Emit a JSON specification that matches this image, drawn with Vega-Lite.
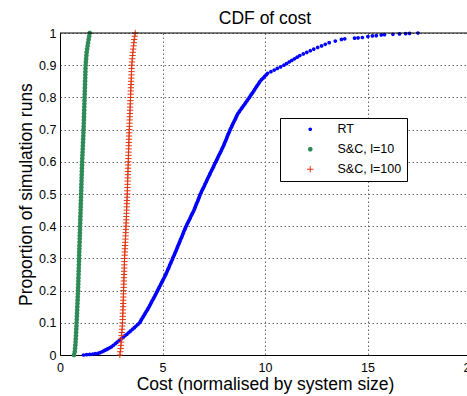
{
"$schema": "https://vega.github.io/schema/vega-lite/v6.json",
"width": 407,
"height": 322,
"autosize": {"type": "none"},
"padding": {"left": 60, "top": 33, "right": 0, "bottom": 41},
"background": "white",
"title": {"text": "CDF of cost", "fontSize": 17.5, "fontWeight": "normal", "font": "Liberation Sans", "color": "black", "anchor": "middle", "frame": "group", "offset": 10, "dx": 1.5, "dy": 10},
"config": {
  "font": "Liberation Sans",
  "view": {"stroke": null},
  "axis": {"domainColor": "black", "domainWidth": 1, "labelColor": "black", "titleColor": "black", "ticks": false, "labelFontSize": 12.5, "titleFontSize": 17.5, "titleFontWeight": "normal", "labelFont": "Liberation Sans", "titleFont": "Liberation Sans", "labelOverlap": false}
},
"layer": [
  {
    "data": {"values": [
{"series":"RT","cost":1.15,"prop":0},{"series":"RT","cost":1.3,"prop":0.001},{"series":"RT","cost":1.45,"prop":0.002},{"series":"RT","cost":1.6,"prop":0.003},{"series":"RT","cost":1.72,"prop":0.004},{"series":"RT","cost":1.85,"prop":0.005},{"series":"RT","cost":1.95,"prop":0.0075},{"series":"RT","cost":2.05,"prop":0.01},{"series":"RT","cost":2.13,"prop":0.0125},{"series":"RT","cost":2.2,"prop":0.015},{"series":"RT","cost":2.28,"prop":0.0175},{"series":"RT","cost":2.35,"prop":0.02},{"series":"RT","cost":2.43,"prop":0.0225},{"series":"RT","cost":2.5,"prop":0.025},{"series":"RT","cost":2.6,"prop":0.03},{"series":"RT","cost":2.7,"prop":0.035},{"series":"RT","cost":2.79,"prop":0.04},{"series":"RT","cost":2.89,"prop":0.045},{"series":"RT","cost":2.98,"prop":0.05},{"series":"RT","cost":3.08,"prop":0.055},{"series":"RT","cost":3.17,"prop":0.06},{"series":"RT","cost":3.27,"prop":0.065},{"series":"RT","cost":3.36,"prop":0.07},{"series":"RT","cost":3.45,"prop":0.075},{"series":"RT","cost":3.54,"prop":0.08},{"series":"RT","cost":3.63,"prop":0.085},{"series":"RT","cost":3.71,"prop":0.09},{"series":"RT","cost":3.8,"prop":0.095},{"series":"RT","cost":3.88,"prop":0.1},
{"series":"RT","cost":3.93,"prop":0.105},{"series":"RT","cost":3.97,"prop":0.11},{"series":"RT","cost":4.02,"prop":0.115},{"series":"RT","cost":4.07,"prop":0.12},{"series":"RT","cost":4.12,"prop":0.125},{"series":"RT","cost":4.16,"prop":0.13},{"series":"RT","cost":4.21,"prop":0.135},{"series":"RT","cost":4.26,"prop":0.14},{"series":"RT","cost":4.3,"prop":0.145},{"series":"RT","cost":4.35,"prop":0.15},
{"series":"RT","cost":4.39,"prop":0.155},{"series":"RT","cost":4.43,"prop":0.16},{"series":"RT","cost":4.47,"prop":0.165},{"series":"RT","cost":4.51,"prop":0.17},{"series":"RT","cost":4.56,"prop":0.175},{"series":"RT","cost":4.6,"prop":0.18},{"series":"RT","cost":4.64,"prop":0.185},{"series":"RT","cost":4.68,"prop":0.19},{"series":"RT","cost":4.72,"prop":0.195},{"series":"RT","cost":4.76,"prop":0.2},
{"series":"RT","cost":4.8,"prop":0.205},{"series":"RT","cost":4.84,"prop":0.21},{"series":"RT","cost":4.88,"prop":0.215},{"series":"RT","cost":4.92,"prop":0.22},{"series":"RT","cost":4.96,"prop":0.225},{"series":"RT","cost":5.0,"prop":0.23},{"series":"RT","cost":5.04,"prop":0.235},{"series":"RT","cost":5.08,"prop":0.24},{"series":"RT","cost":5.12,"prop":0.245},{"series":"RT","cost":5.16,"prop":0.25},
{"series":"RT","cost":5.19,"prop":0.255},{"series":"RT","cost":5.23,"prop":0.26},{"series":"RT","cost":5.26,"prop":0.265},{"series":"RT","cost":5.3,"prop":0.27},{"series":"RT","cost":5.33,"prop":0.275},{"series":"RT","cost":5.36,"prop":0.28},{"series":"RT","cost":5.4,"prop":0.285},{"series":"RT","cost":5.43,"prop":0.29},{"series":"RT","cost":5.47,"prop":0.295},{"series":"RT","cost":5.5,"prop":0.3},
{"series":"RT","cost":5.53,"prop":0.305},{"series":"RT","cost":5.57,"prop":0.31},{"series":"RT","cost":5.6,"prop":0.315},{"series":"RT","cost":5.63,"prop":0.32},{"series":"RT","cost":5.67,"prop":0.325},{"series":"RT","cost":5.7,"prop":0.33},{"series":"RT","cost":5.73,"prop":0.335},{"series":"RT","cost":5.76,"prop":0.34},{"series":"RT","cost":5.8,"prop":0.345},{"series":"RT","cost":5.83,"prop":0.35},
{"series":"RT","cost":5.86,"prop":0.355},{"series":"RT","cost":5.89,"prop":0.36},{"series":"RT","cost":5.93,"prop":0.365},{"series":"RT","cost":5.96,"prop":0.37},{"series":"RT","cost":5.99,"prop":0.375},{"series":"RT","cost":6.02,"prop":0.38},{"series":"RT","cost":6.05,"prop":0.385},{"series":"RT","cost":6.09,"prop":0.39},{"series":"RT","cost":6.12,"prop":0.395},{"series":"RT","cost":6.15,"prop":0.4},
{"series":"RT","cost":6.19,"prop":0.405},{"series":"RT","cost":6.23,"prop":0.41},{"series":"RT","cost":6.27,"prop":0.415},{"series":"RT","cost":6.31,"prop":0.42},{"series":"RT","cost":6.35,"prop":0.425},{"series":"RT","cost":6.38,"prop":0.43},{"series":"RT","cost":6.42,"prop":0.435},{"series":"RT","cost":6.46,"prop":0.44},{"series":"RT","cost":6.5,"prop":0.445},{"series":"RT","cost":6.54,"prop":0.45},
{"series":"RT","cost":6.57,"prop":0.455},{"series":"RT","cost":6.6,"prop":0.46},{"series":"RT","cost":6.63,"prop":0.465},{"series":"RT","cost":6.66,"prop":0.47},{"series":"RT","cost":6.7,"prop":0.475},{"series":"RT","cost":6.73,"prop":0.48},{"series":"RT","cost":6.76,"prop":0.485},{"series":"RT","cost":6.79,"prop":0.49},{"series":"RT","cost":6.82,"prop":0.495},{"series":"RT","cost":6.85,"prop":0.5},
{"series":"RT","cost":6.89,"prop":0.505},{"series":"RT","cost":6.92,"prop":0.51},{"series":"RT","cost":6.96,"prop":0.515},{"series":"RT","cost":7.0,"prop":0.52},{"series":"RT","cost":7.04,"prop":0.525},{"series":"RT","cost":7.07,"prop":0.53},{"series":"RT","cost":7.11,"prop":0.535},{"series":"RT","cost":7.15,"prop":0.54},{"series":"RT","cost":7.18,"prop":0.545},{"series":"RT","cost":7.22,"prop":0.55},
{"series":"RT","cost":7.26,"prop":0.555},{"series":"RT","cost":7.3,"prop":0.56},{"series":"RT","cost":7.33,"prop":0.565},{"series":"RT","cost":7.37,"prop":0.57},{"series":"RT","cost":7.41,"prop":0.575},{"series":"RT","cost":7.45,"prop":0.58},{"series":"RT","cost":7.49,"prop":0.585},{"series":"RT","cost":7.52,"prop":0.59},{"series":"RT","cost":7.56,"prop":0.595},{"series":"RT","cost":7.6,"prop":0.6},
{"series":"RT","cost":7.64,"prop":0.605},{"series":"RT","cost":7.68,"prop":0.61},{"series":"RT","cost":7.71,"prop":0.615},{"series":"RT","cost":7.75,"prop":0.62},{"series":"RT","cost":7.79,"prop":0.625},{"series":"RT","cost":7.83,"prop":0.63},{"series":"RT","cost":7.87,"prop":0.635},{"series":"RT","cost":7.9,"prop":0.64},{"series":"RT","cost":7.94,"prop":0.645},{"series":"RT","cost":7.98,"prop":0.65},
{"series":"RT","cost":8.01,"prop":0.655},{"series":"RT","cost":8.04,"prop":0.66},{"series":"RT","cost":8.08,"prop":0.665},{"series":"RT","cost":8.11,"prop":0.67},{"series":"RT","cost":8.14,"prop":0.675},{"series":"RT","cost":8.17,"prop":0.68},{"series":"RT","cost":8.2,"prop":0.685},{"series":"RT","cost":8.24,"prop":0.69},{"series":"RT","cost":8.27,"prop":0.695},{"series":"RT","cost":8.3,"prop":0.7},
{"series":"RT","cost":8.34,"prop":0.705},{"series":"RT","cost":8.38,"prop":0.71},{"series":"RT","cost":8.41,"prop":0.715},{"series":"RT","cost":8.45,"prop":0.72},{"series":"RT","cost":8.49,"prop":0.725},{"series":"RT","cost":8.53,"prop":0.73},{"series":"RT","cost":8.57,"prop":0.735},{"series":"RT","cost":8.6,"prop":0.74},{"series":"RT","cost":8.64,"prop":0.745},{"series":"RT","cost":8.68,"prop":0.75},
{"series":"RT","cost":8.74,"prop":0.755},{"series":"RT","cost":8.79,"prop":0.76},{"series":"RT","cost":8.85,"prop":0.765},{"series":"RT","cost":8.9,"prop":0.77},{"series":"RT","cost":8.96,"prop":0.775},{"series":"RT","cost":9.02,"prop":0.78},{"series":"RT","cost":9.07,"prop":0.785},{"series":"RT","cost":9.13,"prop":0.79},{"series":"RT","cost":9.18,"prop":0.795},{"series":"RT","cost":9.24,"prop":0.8},
{"series":"RT","cost":9.29,"prop":0.805},{"series":"RT","cost":9.34,"prop":0.81},{"series":"RT","cost":9.4,"prop":0.815},{"series":"RT","cost":9.45,"prop":0.82},{"series":"RT","cost":9.5,"prop":0.825},{"series":"RT","cost":9.55,"prop":0.83},{"series":"RT","cost":9.6,"prop":0.835},{"series":"RT","cost":9.66,"prop":0.84},{"series":"RT","cost":9.71,"prop":0.845},{"series":"RT","cost":9.76,"prop":0.85},
{"series":"RT","cost":9.83,"prop":0.855},{"series":"RT","cost":9.91,"prop":0.86},{"series":"RT","cost":9.98,"prop":0.865},{"series":"RT","cost":10.06,"prop":0.87},{"series":"RT","cost":10.13,"prop":0.875},
{"series":"RT","cost":10.29,"prop":0.88},{"series":"RT","cost":10.45,"prop":0.885},{"series":"RT","cost":10.6,"prop":0.89},{"series":"RT","cost":10.76,"prop":0.895},{"series":"RT","cost":10.92,"prop":0.9},
{"series":"RT","cost":11.05,"prop":0.905},{"series":"RT","cost":11.18,"prop":0.91},{"series":"RT","cost":11.31,"prop":0.915},{"series":"RT","cost":11.44,"prop":0.92},{"series":"RT","cost":11.57,"prop":0.925},{"series":"RT","cost":11.7,"prop":0.93},
{"series":"RT","cost":11.87,"prop":0.935},{"series":"RT","cost":12.04,"prop":0.94},{"series":"RT","cost":12.21,"prop":0.945},{"series":"RT","cost":12.38,"prop":0.95},
{"series":"RT","cost":12.57,"prop":0.955},{"series":"RT","cost":12.76,"prop":0.96},{"series":"RT","cost":12.94,"prop":0.965},{"series":"RT","cost":13.13,"prop":0.97},
{"series":"RT","cost":13.43,"prop":0.975},{"series":"RT","cost":13.73,"prop":0.98},{"series":"RT","cost":13.89,"prop":0.982},{"series":"RT","cost":14.37,"prop":0.984},{"series":"RT","cost":14.54,"prop":0.985},{"series":"RT","cost":14.75,"prop":0.986},{"series":"RT","cost":15.02,"prop":0.989},{"series":"RT","cost":15.24,"prop":0.991},{"series":"RT","cost":15.43,"prop":0.992},{"series":"RT","cost":15.67,"prop":0.994},{"series":"RT","cost":15.83,"prop":0.995},{"series":"RT","cost":16.24,"prop":0.996},{"series":"RT","cost":16.56,"prop":0.997},{"series":"RT","cost":16.86,"prop":0.998},{"series":"RT","cost":17.05,"prop":0.999},{"series":"RT","cost":17.46,"prop":1.0},
{"series":"S&C, l=10","cost":0.68,"prop":0},{"series":"S&C, l=10","cost":0.72,"prop":0.01},{"series":"S&C, l=10","cost":0.735,"prop":0.02},{"series":"S&C, l=10","cost":0.75,"prop":0.03},{"series":"S&C, l=10","cost":0.76,"prop":0.04},{"series":"S&C, l=10","cost":0.77,"prop":0.05},{"series":"S&C, l=10","cost":0.778,"prop":0.06},{"series":"S&C, l=10","cost":0.786,"prop":0.07},{"series":"S&C, l=10","cost":0.794,"prop":0.08},{"series":"S&C, l=10","cost":0.802,"prop":0.09},{"series":"S&C, l=10","cost":0.81,"prop":0.1},
{"series":"S&C, l=10","cost":0.817,"prop":0.11},{"series":"S&C, l=10","cost":0.824,"prop":0.12},{"series":"S&C, l=10","cost":0.831,"prop":0.13},{"series":"S&C, l=10","cost":0.838,"prop":0.14},{"series":"S&C, l=10","cost":0.845,"prop":0.15},{"series":"S&C, l=10","cost":0.852,"prop":0.16},{"series":"S&C, l=10","cost":0.859,"prop":0.17},{"series":"S&C, l=10","cost":0.866,"prop":0.18},{"series":"S&C, l=10","cost":0.873,"prop":0.19},{"series":"S&C, l=10","cost":0.88,"prop":0.2},
{"series":"S&C, l=10","cost":0.885,"prop":0.21},{"series":"S&C, l=10","cost":0.89,"prop":0.22},{"series":"S&C, l=10","cost":0.895,"prop":0.23},{"series":"S&C, l=10","cost":0.9,"prop":0.24},{"series":"S&C, l=10","cost":0.905,"prop":0.25},{"series":"S&C, l=10","cost":0.91,"prop":0.26},{"series":"S&C, l=10","cost":0.915,"prop":0.27},{"series":"S&C, l=10","cost":0.92,"prop":0.28},{"series":"S&C, l=10","cost":0.925,"prop":0.29},{"series":"S&C, l=10","cost":0.93,"prop":0.3},
{"series":"S&C, l=10","cost":0.935,"prop":0.31},{"series":"S&C, l=10","cost":0.94,"prop":0.32},{"series":"S&C, l=10","cost":0.945,"prop":0.33},{"series":"S&C, l=10","cost":0.95,"prop":0.34},{"series":"S&C, l=10","cost":0.955,"prop":0.35},{"series":"S&C, l=10","cost":0.96,"prop":0.36},{"series":"S&C, l=10","cost":0.965,"prop":0.37},{"series":"S&C, l=10","cost":0.97,"prop":0.38},{"series":"S&C, l=10","cost":0.975,"prop":0.39},{"series":"S&C, l=10","cost":0.98,"prop":0.4},
{"series":"S&C, l=10","cost":0.985,"prop":0.41},{"series":"S&C, l=10","cost":0.99,"prop":0.42},{"series":"S&C, l=10","cost":0.995,"prop":0.43},{"series":"S&C, l=10","cost":1.0,"prop":0.44},{"series":"S&C, l=10","cost":1.005,"prop":0.45},{"series":"S&C, l=10","cost":1.01,"prop":0.46},{"series":"S&C, l=10","cost":1.015,"prop":0.47},{"series":"S&C, l=10","cost":1.02,"prop":0.48},{"series":"S&C, l=10","cost":1.025,"prop":0.49},{"series":"S&C, l=10","cost":1.03,"prop":0.5},
{"series":"S&C, l=10","cost":1.035,"prop":0.51},{"series":"S&C, l=10","cost":1.04,"prop":0.52},{"series":"S&C, l=10","cost":1.045,"prop":0.53},{"series":"S&C, l=10","cost":1.05,"prop":0.54},{"series":"S&C, l=10","cost":1.055,"prop":0.55},{"series":"S&C, l=10","cost":1.06,"prop":0.56},{"series":"S&C, l=10","cost":1.065,"prop":0.57},{"series":"S&C, l=10","cost":1.07,"prop":0.58},{"series":"S&C, l=10","cost":1.075,"prop":0.59},{"series":"S&C, l=10","cost":1.08,"prop":0.6},
{"series":"S&C, l=10","cost":1.087,"prop":0.61},{"series":"S&C, l=10","cost":1.094,"prop":0.62},{"series":"S&C, l=10","cost":1.101,"prop":0.63},{"series":"S&C, l=10","cost":1.108,"prop":0.64},{"series":"S&C, l=10","cost":1.115,"prop":0.65},{"series":"S&C, l=10","cost":1.122,"prop":0.66},{"series":"S&C, l=10","cost":1.129,"prop":0.67},{"series":"S&C, l=10","cost":1.136,"prop":0.68},{"series":"S&C, l=10","cost":1.143,"prop":0.69},{"series":"S&C, l=10","cost":1.15,"prop":0.7},
{"series":"S&C, l=10","cost":1.155,"prop":0.71},{"series":"S&C, l=10","cost":1.16,"prop":0.72},{"series":"S&C, l=10","cost":1.165,"prop":0.73},{"series":"S&C, l=10","cost":1.17,"prop":0.74},{"series":"S&C, l=10","cost":1.175,"prop":0.75},{"series":"S&C, l=10","cost":1.18,"prop":0.76},{"series":"S&C, l=10","cost":1.185,"prop":0.77},{"series":"S&C, l=10","cost":1.19,"prop":0.78},{"series":"S&C, l=10","cost":1.195,"prop":0.79},{"series":"S&C, l=10","cost":1.2,"prop":0.8},
{"series":"S&C, l=10","cost":1.205,"prop":0.81},{"series":"S&C, l=10","cost":1.21,"prop":0.82},{"series":"S&C, l=10","cost":1.215,"prop":0.83},{"series":"S&C, l=10","cost":1.22,"prop":0.84},{"series":"S&C, l=10","cost":1.225,"prop":0.85},{"series":"S&C, l=10","cost":1.23,"prop":0.86},{"series":"S&C, l=10","cost":1.235,"prop":0.87},{"series":"S&C, l=10","cost":1.24,"prop":0.88},{"series":"S&C, l=10","cost":1.245,"prop":0.89},{"series":"S&C, l=10","cost":1.25,"prop":0.9},
{"series":"S&C, l=10","cost":1.263,"prop":0.91},{"series":"S&C, l=10","cost":1.275,"prop":0.92},{"series":"S&C, l=10","cost":1.288,"prop":0.93},{"series":"S&C, l=10","cost":1.3,"prop":0.94},{"series":"S&C, l=10","cost":1.323,"prop":0.95},{"series":"S&C, l=10","cost":1.347,"prop":0.96},{"series":"S&C, l=10","cost":1.37,"prop":0.97},{"series":"S&C, l=10","cost":1.397,"prop":0.98},{"series":"S&C, l=10","cost":1.423,"prop":0.99},{"series":"S&C, l=10","cost":1.45,"prop":1.0},
{"series":"S&C, l=100","cost":2.92,"prop":0},{"series":"S&C, l=100","cost":2.94,"prop":0.01},{"series":"S&C, l=100","cost":2.96,"prop":0.02},{"series":"S&C, l=100","cost":2.971,"prop":0.03},{"series":"S&C, l=100","cost":2.983,"prop":0.04},{"series":"S&C, l=100","cost":2.994,"prop":0.05},{"series":"S&C, l=100","cost":3.005,"prop":0.06},{"series":"S&C, l=100","cost":3.016,"prop":0.07},{"series":"S&C, l=100","cost":3.028,"prop":0.08},{"series":"S&C, l=100","cost":3.039,"prop":0.09},{"series":"S&C, l=100","cost":3.05,"prop":0.1},
{"series":"S&C, l=100","cost":3.055,"prop":0.11},{"series":"S&C, l=100","cost":3.06,"prop":0.12},{"series":"S&C, l=100","cost":3.065,"prop":0.13},{"series":"S&C, l=100","cost":3.07,"prop":0.14},{"series":"S&C, l=100","cost":3.075,"prop":0.15},{"series":"S&C, l=100","cost":3.08,"prop":0.16},{"series":"S&C, l=100","cost":3.085,"prop":0.17},{"series":"S&C, l=100","cost":3.09,"prop":0.18},{"series":"S&C, l=100","cost":3.095,"prop":0.19},{"series":"S&C, l=100","cost":3.1,"prop":0.2},
{"series":"S&C, l=100","cost":3.105,"prop":0.21},{"series":"S&C, l=100","cost":3.11,"prop":0.22},{"series":"S&C, l=100","cost":3.115,"prop":0.23},{"series":"S&C, l=100","cost":3.12,"prop":0.24},{"series":"S&C, l=100","cost":3.125,"prop":0.25},{"series":"S&C, l=100","cost":3.13,"prop":0.26},{"series":"S&C, l=100","cost":3.135,"prop":0.27},{"series":"S&C, l=100","cost":3.14,"prop":0.28},{"series":"S&C, l=100","cost":3.145,"prop":0.29},{"series":"S&C, l=100","cost":3.15,"prop":0.3},
{"series":"S&C, l=100","cost":3.157,"prop":0.31},{"series":"S&C, l=100","cost":3.164,"prop":0.32},{"series":"S&C, l=100","cost":3.171,"prop":0.33},{"series":"S&C, l=100","cost":3.178,"prop":0.34},{"series":"S&C, l=100","cost":3.185,"prop":0.35},{"series":"S&C, l=100","cost":3.192,"prop":0.36},{"series":"S&C, l=100","cost":3.199,"prop":0.37},{"series":"S&C, l=100","cost":3.206,"prop":0.38},{"series":"S&C, l=100","cost":3.213,"prop":0.39},{"series":"S&C, l=100","cost":3.22,"prop":0.4},
{"series":"S&C, l=100","cost":3.226,"prop":0.41},{"series":"S&C, l=100","cost":3.232,"prop":0.42},{"series":"S&C, l=100","cost":3.238,"prop":0.43},{"series":"S&C, l=100","cost":3.244,"prop":0.44},{"series":"S&C, l=100","cost":3.25,"prop":0.45},{"series":"S&C, l=100","cost":3.256,"prop":0.46},{"series":"S&C, l=100","cost":3.262,"prop":0.47},{"series":"S&C, l=100","cost":3.268,"prop":0.48},{"series":"S&C, l=100","cost":3.274,"prop":0.49},{"series":"S&C, l=100","cost":3.28,"prop":0.5},
{"series":"S&C, l=100","cost":3.285,"prop":0.51},{"series":"S&C, l=100","cost":3.29,"prop":0.52},{"series":"S&C, l=100","cost":3.295,"prop":0.53},{"series":"S&C, l=100","cost":3.3,"prop":0.54},{"series":"S&C, l=100","cost":3.305,"prop":0.55},{"series":"S&C, l=100","cost":3.31,"prop":0.56},{"series":"S&C, l=100","cost":3.315,"prop":0.57},{"series":"S&C, l=100","cost":3.32,"prop":0.58},{"series":"S&C, l=100","cost":3.325,"prop":0.59},{"series":"S&C, l=100","cost":3.33,"prop":0.6},
{"series":"S&C, l=100","cost":3.335,"prop":0.61},{"series":"S&C, l=100","cost":3.34,"prop":0.62},{"series":"S&C, l=100","cost":3.345,"prop":0.63},{"series":"S&C, l=100","cost":3.35,"prop":0.64},{"series":"S&C, l=100","cost":3.355,"prop":0.65},{"series":"S&C, l=100","cost":3.36,"prop":0.66},{"series":"S&C, l=100","cost":3.365,"prop":0.67},{"series":"S&C, l=100","cost":3.37,"prop":0.68},{"series":"S&C, l=100","cost":3.375,"prop":0.69},{"series":"S&C, l=100","cost":3.38,"prop":0.7},
{"series":"S&C, l=100","cost":3.386,"prop":0.71},{"series":"S&C, l=100","cost":3.392,"prop":0.72},{"series":"S&C, l=100","cost":3.398,"prop":0.73},{"series":"S&C, l=100","cost":3.404,"prop":0.74},{"series":"S&C, l=100","cost":3.41,"prop":0.75},{"series":"S&C, l=100","cost":3.416,"prop":0.76},{"series":"S&C, l=100","cost":3.422,"prop":0.77},{"series":"S&C, l=100","cost":3.428,"prop":0.78},{"series":"S&C, l=100","cost":3.434,"prop":0.79},{"series":"S&C, l=100","cost":3.44,"prop":0.8},
{"series":"S&C, l=100","cost":3.446,"prop":0.81},{"series":"S&C, l=100","cost":3.452,"prop":0.82},{"series":"S&C, l=100","cost":3.458,"prop":0.83},{"series":"S&C, l=100","cost":3.464,"prop":0.84},{"series":"S&C, l=100","cost":3.47,"prop":0.85},{"series":"S&C, l=100","cost":3.476,"prop":0.86},{"series":"S&C, l=100","cost":3.482,"prop":0.87},{"series":"S&C, l=100","cost":3.488,"prop":0.88},{"series":"S&C, l=100","cost":3.494,"prop":0.89},{"series":"S&C, l=100","cost":3.5,"prop":0.9},
{"series":"S&C, l=100","cost":3.514,"prop":0.91},{"series":"S&C, l=100","cost":3.528,"prop":0.92},{"series":"S&C, l=100","cost":3.542,"prop":0.93},{"series":"S&C, l=100","cost":3.556,"prop":0.94},{"series":"S&C, l=100","cost":3.57,"prop":0.95},{"series":"S&C, l=100","cost":3.587,"prop":0.96},{"series":"S&C, l=100","cost":3.603,"prop":0.97},{"series":"S&C, l=100","cost":3.62,"prop":0.98},{"series":"S&C, l=100","cost":3.645,"prop":0.99},{"series":"S&C, l=100","cost":3.67,"prop":1.0}
    ]},
    "mark": {"type": "point", "filled": false, "opacity": 1},
    "encoding": {
      "x": {"field": "cost", "type": "quantitative", "scale": {"domain": [0, 20], "range": [0, 410], "nice": false}, "axis": {"values": [0, 5, 10, 15, 20], "format": "d", "title": "Cost (normalised by system size)", "grid": true, "gridDash": [1.5, 2.5], "gridColor": "#666666", "labelBaseline": "alphabetic", "labelPadding": 16, "titleBaseline": "alphabetic", "titleY": 34.5, "titleX": 205, "labelFlush": false}},
      "y": {"field": "prop", "type": "quantitative", "scale": {"domain": [0, 1], "nice": false}, "axis": {"values": [0, 0.1, 0.2, 0.3, 0.4, 0.5, 0.6, 0.7, 0.8, 0.9, 1], "format": "~g", "title": "Proportion of simulation runs", "grid": true, "gridDash": [1.5, 2.5], "gridColor": "#666666", "labelPadding": 4, "titleAngle": -90, "titleBaseline": "alphabetic", "titleAlign": "center", "titleX": -29, "titleY": 161, "labelFlush": false}},
      "color": {"field": "series", "type": "nominal", "scale": {"domain": ["RT", "S&C, l=10", "S&C, l=100"], "range": ["#0000ff", "#2e8b57", "#e03512"]}, "legend": {"title": null, "orient": "none", "legendX": 220, "legendY": 85, "strokeColor": "black", "fillColor": "white", "padding": 5, "labelFontSize": 12.5, "labelColor": "black", "labelFont": "Liberation Sans", "symbolStrokeWidth": 1, "rowPadding": 7, "symbolOffset": 19, "labelOffset": 21}},
      "shape": {"field": "series", "type": "nominal", "scale": {"domain": ["RT", "S&C, l=10", "S&C, l=100"], "range": ["circle", "M-1,0L1,0M0,-1L0,1M-0.7071,-0.7071L0.7071,0.7071M-0.7071,0.7071L0.7071,-0.7071", "M-1,0L1,0M0,-1L0,1"]}},
      "size": {"field": "series", "type": "nominal", "scale": {"domain": ["RT", "S&C, l=10", "S&C, l=100"], "range": [3, 40, 60]}},
      "strokeWidth": {"field": "series", "type": "nominal", "scale": {"domain": ["RT", "S&C, l=10", "S&C, l=100"], "range": [2, 1, 1]}, "legend": null}
    }
  },
  {
    "data": {"values": [{}]},
    "mark": {"type": "rule", "color": "black", "strokeWidth": 1},
    "encoding": {"y": {"datum": 1, "type": "quantitative", "scale": {"domain": [0, 1], "nice": false}, "axis": {"values": [0, 0.1, 0.2, 0.3, 0.4, 0.5, 0.6, 0.7, 0.8, 0.9, 1], "format": "~g", "title": "Proportion of simulation runs", "grid": true, "gridDash": [1.5, 2.5], "gridColor": "#666666", "labelPadding": 4, "titleAngle": -90, "titleBaseline": "alphabetic", "titleAlign": "center", "titleX": -29, "titleY": 161, "labelFlush": false}}}
  }
]
}
